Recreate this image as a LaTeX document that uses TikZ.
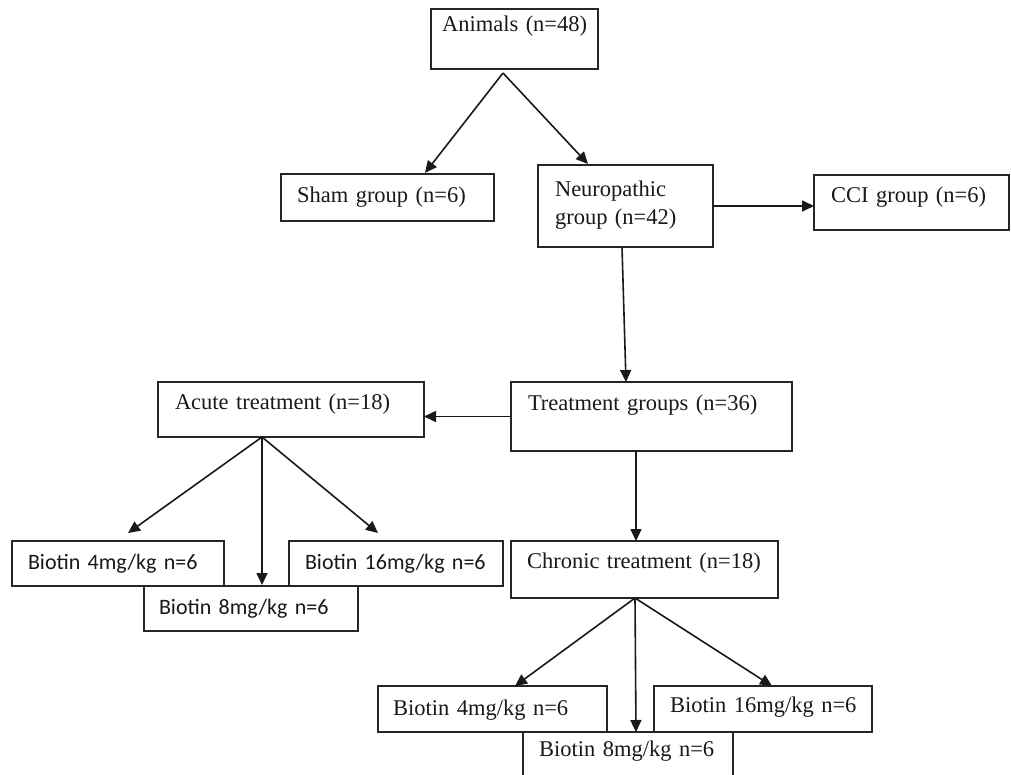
\documentclass[tikz,border=0pt]{standalone}
\usepackage{fontspec}
\setmainfont{Liberation Serif}
\newfontfamily\calib{Carlito}
\usetikzlibrary{arrows.meta}
\tikzset{
  box/.style={draw=black!85, line width=1.5pt, anchor=north west, inner ysep=0pt, outer sep=0pt,
    align=left, text=black!90, font=\fontsize{22.5}{28}\selectfont},
  sbox/.style={box, font=\calib\fontsize{22}{28}\selectfont},
  arr/.style={draw=black!90, line width=1.6pt, -{Triangle[length=12pt,width=11pt]}}
}
\begin{document}
\begin{tikzpicture}[x=1pt,y=-1pt]
\fill[white] (0,0) rectangle (1011,774);
\useasboundingbox (0,0) rectangle (1011,774);
% top level
\node[box, inner xsep=11pt, text width=145pt, text height=22pt, text depth=38pt] (animals) at (431,9) {\mbox{Animals (n=48)}};
\node[box, inner xsep=16pt, text width=181pt, text height=28pt, text depth=19pt] (sham) at (281,174) {\mbox{Sham group (n=6)}};
\node[box, inner xsep=17pt, text width=141pt, text height=31pt, text depth=51pt] (neuro) at (538,165) {Neuropathic\\group (n=42)};
\node[box, inner xsep=17pt, text width=161pt, text height=27pt, text depth=28pt] (cci) at (814,175) {\mbox{CCI group (n=6)}};
% treatment
\node[box, inner xsep=17pt, text width=247pt, text height=28pt, text depth=41pt] (treat) at (511,382) {\mbox{Treatment groups (n=36)}};
\node[box, inner xsep=17pt, text width=232pt, text height=27pt, text depth=28pt] (acute) at (158,382) {\mbox{Acute treatment (n=18)}};
\node[box, inner xsep=16pt, text width=235pt, text height=27pt, text depth=30pt] (chronic) at (511,541) {\mbox{Chronic treatment (n=18)}};
% acute doses
\node[sbox, inner xsep=16pt, text width=180pt, text height=28pt, text depth=17pt] (a4) at (12,541) {\mbox{Biotin 4mg/kg n=6}};
\node[sbox, inner xsep=16pt, text width=182pt, text height=28pt, text depth=17pt] (a16) at (289,541) {\mbox{Biotin 16mg/kg n=6}};
\node[sbox, inner xsep=15pt, text width=184pt, text height=28pt, text depth=17pt] (a8) at (144,586) {\mbox{Biotin 8mg/kg n=6}};
% chronic doses
\node[box, inner xsep=15pt, text width=199pt, text height=29pt, text depth=17pt] (c4) at (378,686) {\mbox{Biotin 4mg/kg n=6}};
\node[box, inner xsep=16pt, text width=186pt, text height=26pt, text depth=20pt] (c16) at (654,686) {\mbox{Biotin 16mg/kg n=6}};
\node[box, inner xsep=16pt, text width=178pt, text height=24pt, text depth=22pt] (c8) at (523,732) {\mbox{Biotin 8mg/kg n=6}};
% connectors
\draw[arr] ([xshift=-11.5pt,yshift=-4pt]animals.south) -- ([xshift=37.5pt,yshift=1pt]sham.north);
\draw[arr] ([xshift=-11.5pt,yshift=-4pt]animals.south) -- ([xshift=-37.5pt,yshift=1pt]neuro.north);
\draw[arr] (neuro.east) -- (neuro.east -| cci.west);
\draw[arr] ([xshift=-3.5pt]neuro.south) -- ([xshift=-25.5pt]treat.north);
\draw[arr] (treat.west) -- (treat.west -| acute.east);
\draw[arr] ([xshift=-15.5pt]treat.south) -- ([xshift=-15.5pt]treat.south |- chronic.north);
\draw[arr] ([xshift=-29pt]acute.south) -- ([xshift=10pt,yshift=8pt]a4.north);
\draw[arr] ([xshift=-29pt]acute.south) -- ([xshift=-18pt,yshift=8pt]a16.north);
\draw[arr] ([xshift=-29pt]acute.south) -- ([xshift=11pt,yshift=1pt]a8.north);
\draw[arr] ([xshift=-9.5pt]chronic.south) -- ([xshift=22.5pt]c4.north);
\draw[arr] ([xshift=-9.5pt]chronic.south) -- ([xshift=9pt]c16.north);
\draw[arr] ([xshift=-9.5pt]chronic.south) -- ([xshift=8pt]c8.north);
\end{tikzpicture}
\end{document}
